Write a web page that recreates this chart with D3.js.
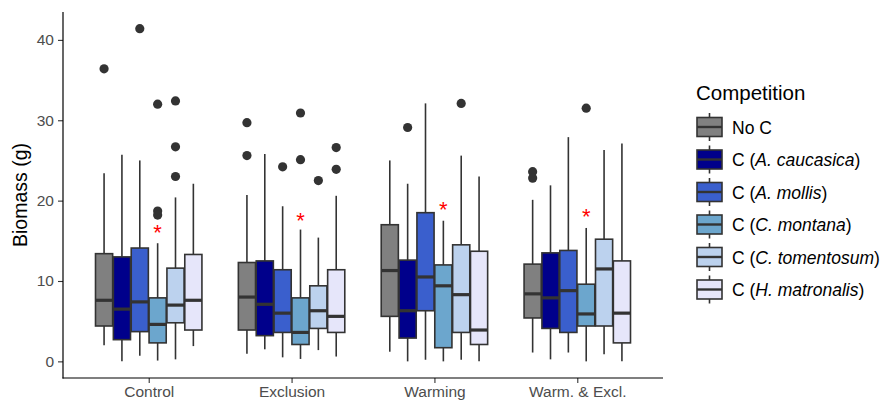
<!DOCTYPE html>
<html>
<head>
<meta charset="utf-8">
<script src="https://cdn.jsdelivr.net/npm/d3@7"></script>
<style>
  body { margin: 0; background: #fff; }
  svg { font-family: "Liberation Sans", Arial, sans-serif; }
</style>
</head>
<body>
<svg id="chart" width="883" height="403"></svg>
<script>
const treatments = ["Control", "Exclusion", "Warming", "Warm. & Excl."];
const competitions = ["No C", "C (A. caucasica)", "C (A. mollis)", "C (C. montana)", "C (C. tomentosum)", "C (H. matronalis)"];
const legendPlain = ["No C", "C (", "C (", "C (", "C (", "C ("];
const legendItalic = ["", "A. caucasica", "A. mollis", "C. montana", "C. tomentosum", "H. matronalis"];
const colors = ["#808080", "#00008b", "#3a5fcd", "#6ca6cd", "#bcd2ee", "#e6e6fa"];

// box stats per treatment, one row per competition: [low whisker, q1, median, q3, high whisker]
const controlStats = [
  [2.0, 4.4, 7.6, 13.4, 23.4],
  [0.0, 2.7, 6.5, 13.0, 25.7],
  [0.7, 3.7, 7.4, 14.1, 25.0],
  [0.1, 2.3, 4.6, 7.9, 14.7],
  [0.25, 4.8, 7.0, 11.6, 20.4],
  [1.9, 3.9, 7.6, 13.3, 22.1]
];
const exclusionStats = [
  [0.95, 3.9, 8.0, 12.3, 20.7],
  [1.5, 3.2, 7.1, 12.5, 25.8],
  [0.5, 3.6, 6.0, 11.4, 19.3],
  [0.3, 2.1, 3.6, 7.9, 16.4],
  [1.4, 4.1, 6.3, 9.4, 15.4],
  [0.6, 3.6, 5.6, 11.4, 20.6]
];
const warmingStats = [
  [1.2, 5.6, 11.3, 17.0, 25.0],
  [0.0, 2.9, 6.3, 12.6, 22.1],
  [0.2, 6.3, 10.5, 18.5, 32.1],
  [0.0, 1.7, 9.4, 12.0, 17.5],
  [0.2, 3.6, 8.3, 14.5, 25.6],
  [0.0, 2.1, 3.9, 13.7, 23.0]
];
const warmExclStats = [
  [1.1, 5.4, 8.4, 12.1, 20.1],
  [0.25, 4.1, 7.9, 13.5, 21.9],
  [1.1, 3.6, 8.8, 13.8, 27.9],
  [0.0, 4.4, 5.9, 9.6, 16.6],
  [0.9, 4.4, 11.5, 15.2, 26.3],
  [0.0, 2.3, 6.0, 12.5, 27.1]
];
const allStats = [controlStats, exclusionStats, warmingStats, warmExclStats];

// outliers: [treatment index, competition index, value]
const outliers = [
  [0, 0, 36.4], [0, 2, 41.4], [0, 3, 32.0], [0, 3, 18.7], [0, 3, 18.2],
  [0, 4, 32.4], [0, 4, 26.7], [0, 4, 23.0],
  [1, 0, 29.7], [1, 0, 25.6], [1, 2, 24.2], [1, 3, 30.9], [1, 3, 25.1],
  [1, 4, 22.5], [1, 5, 26.6], [1, 5, 23.9],
  [2, 1, 29.1], [2, 4, 32.1],
  [3, 0, 23.6], [3, 0, 22.8], [3, 3, 31.5]
];

// significance asterisks above C. montana
const starValues = [16.3, 17.8, 19.2, 18.3];

const yTicks = [0, 10, 20, 30, 40];

const svg = d3.select("#chart");
const panel = { left: 63, right: 663, top: 12, bottom: 378 };

const y = d3.scaleLinear()
  .domain([-2.07, 43.47])
  .range([panel.bottom, panel.top]);

const x = d3.scalePoint()
  .domain(treatments)
  .range([panel.left, panel.right])
  .padding(0.6);

const dodge = d3.scaleBand()
  .domain(d3.range(competitions.length))
  .range([-0.375 * x.step(), 0.375 * x.step()])
  .padding(0);

const boxW = dodge.bandwidth() * 0.96;
const ink = "#333333";

// boxes
const rows = [];
allStats.forEach((stats, t) => {
  stats.forEach((s, c) => rows.push({ t, c, s }));
});

const g = svg.append("g");
const boxes = g.selectAll("g.box").data(rows).join("g")
  .attr("class", "box")
  .attr("transform", d => `translate(${x(treatments[d.t]) + dodge(d.c) + dodge.bandwidth() / 2},0)`);

boxes.append("line")
  .attr("x1", 0).attr("x2", 0)
  .attr("y1", d => y(d.s[3])).attr("y2", d => y(d.s[4]))
  .attr("stroke", ink).attr("stroke-width", 1.6);
boxes.append("line")
  .attr("x1", 0).attr("x2", 0)
  .attr("y1", d => y(d.s[1])).attr("y2", d => y(d.s[0]))
  .attr("stroke", ink).attr("stroke-width", 1.6);
boxes.append("rect")
  .attr("x", -boxW / 2)
  .attr("width", boxW)
  .attr("y", d => y(d.s[3]))
  .attr("height", d => y(d.s[1]) - y(d.s[3]))
  .attr("fill", d => colors[d.c])
  .attr("stroke", ink).attr("stroke-width", 1.6);
boxes.append("line")
  .attr("x1", -boxW / 2).attr("x2", boxW / 2)
  .attr("y1", d => y(d.s[2])).attr("y2", d => y(d.s[2]))
  .attr("stroke", ink).attr("stroke-width", 3.2);

// outliers
g.selectAll("circle.out").data(outliers).join("circle")
  .attr("class", "out")
  .attr("cx", d => x(treatments[d[0]]) + dodge(d[1]) + dodge.bandwidth() / 2)
  .attr("cy", d => y(d[2]))
  .attr("r", 4.6)
  .attr("fill", ink);

// asterisks
g.selectAll("text.star").data(starValues).join("text")
  .attr("class", "star")
  .attr("x", (d, i) => x(treatments[i]) + dodge(3) + dodge.bandwidth() / 2)
  .attr("y", d => y(d) + 10)
  .attr("text-anchor", "middle")
  .attr("font-size", 22)
  .attr("fill", "#ff0000")
  .text("*");

// axes
const yAxis = svg.append("g")
  .attr("transform", `translate(${panel.left},0)`)
  .call(d3.axisLeft(y).tickValues(yTicks).tickSize(5).tickPadding(4));
const xAxis = svg.append("g")
  .attr("transform", `translate(0,${panel.bottom})`)
  .call(d3.axisBottom(x).tickSize(5).tickPadding(3));

[yAxis, xAxis].forEach(a => {
  a.select(".domain").remove();
  a.selectAll(".tick line").attr("stroke", ink).attr("stroke-width", 1.1);
  a.selectAll(".tick text").attr("fill", "#4d4d4d").attr("font-size", 15.5)
    .attr("font-family", "Liberation Sans, Arial, sans-serif");
});

svg.append("line")
  .attr("x1", panel.left).attr("x2", panel.left)
  .attr("y1", panel.top).attr("y2", panel.bottom + 0.5)
  .attr("stroke", "#000").attr("stroke-width", 1.2);
svg.append("line")
  .attr("x1", panel.left - 0.5).attr("x2", panel.right)
  .attr("y1", panel.bottom).attr("y2", panel.bottom)
  .attr("stroke", "#000").attr("stroke-width", 1.2);

svg.append("text")
  .attr("transform", `translate(27,${(panel.top + panel.bottom) / 2}) rotate(-90)`)
  .attr("text-anchor", "middle")
  .attr("font-size", 19.5)
  .attr("fill", "#000")
  .text("Biomass (g)");

// legend
const legend = svg.append("g").attr("transform", "translate(697,0)");
legend.append("text")
  .attr("x", -1).attr("y", 99.5)
  .attr("font-size", 20.5)
  .attr("fill", "#000")
  .text("Competition");

const keyW = 25, keyH = 19, rowGap = 32.5, firstRow = 127;
const items = legend.selectAll("g.item").data(competitions).join("g")
  .attr("class", "item")
  .attr("transform", (d, i) => `translate(0,${firstRow + i * rowGap})`);
items.append("line")
  .attr("x1", keyW / 2).attr("x2", keyW / 2)
  .attr("y1", -14).attr("y2", 14)
  .attr("stroke", ink).attr("stroke-width", 1.6);
items.append("rect")
  .attr("x", 0).attr("y", -keyH / 2)
  .attr("width", keyW).attr("height", keyH)
  .attr("fill", (d, i) => colors[i])
  .attr("stroke", ink).attr("stroke-width", 1.6);
items.append("line")
  .attr("x1", 0).attr("x2", keyW)
  .attr("y1", 0).attr("y2", 0)
  .attr("stroke", ink).attr("stroke-width", 2.4);
const labels = items.append("text")
  .attr("x", keyW + 10)
  .attr("y", 6.5)
  .attr("font-size", 17.5)
  .attr("fill", "#000");
labels.append("tspan").text((d, i) => legendPlain[i]);
labels.append("tspan").attr("font-style", "italic").text((d, i) => legendItalic[i]);
labels.append("tspan").text((d, i) => i > 0 ? ")" : "");
</script>
</body>
</html>
